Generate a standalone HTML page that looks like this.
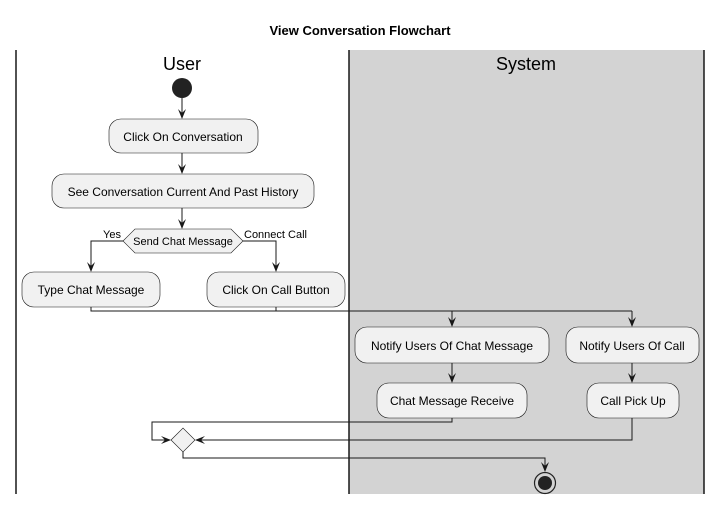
<!DOCTYPE html>
<html><head><style>body{margin:0;background:#fff}svg{display:block}text{font-family:"Liberation Sans",sans-serif;fill:#000}</style></head>
<body>
<svg width="721" height="505" viewBox="0 0 721 505" xmlns="http://www.w3.org/2000/svg">
<defs><marker id="a" viewBox="0 0 10 10" refX="9" refY="5" markerWidth="10" markerHeight="10" orient="auto" markerUnits="userSpaceOnUse"><path d="M0,1 L10,5 L0,9 L4,5 Z" fill="#181818"/></marker></defs>
<text x="360" y="35" font-size="13" font-weight="bold" text-anchor="middle">View Conversation Flowchart</text>
<rect x="349" y="50" width="355" height="444" fill="#d3d3d3"/>
<g stroke="#181818" stroke-width="1.5"><line x1="16" y1="50" x2="16" y2="494"/><line x1="349" y1="50" x2="349" y2="494"/><line x1="704" y1="50" x2="704" y2="494"/></g>
<text x="182" y="70" font-size="18" text-anchor="middle">User</text>
<text x="526" y="70" font-size="18" text-anchor="middle">System</text>
<circle cx="182" cy="88" r="10" fill="#222"/>
<g fill="#f1f1f1" stroke="#181818" stroke-width="0.6">
<rect x="109" y="119" width="149" height="34" rx="12"/>
<rect x="52" y="174" width="262" height="34" rx="12"/>
<polygon points="123,241 135,229 231,229 243,241 231,253 135,253"/>
<rect x="22" y="272" width="138" height="35" rx="12"/>
<rect x="207" y="272" width="138" height="35" rx="12"/>
<rect x="355" y="327" width="194" height="36" rx="12"/>
<rect x="566" y="327" width="133" height="36" rx="12"/>
<rect x="377" y="383" width="150" height="35" rx="12"/>
<rect x="587" y="383" width="92" height="35" rx="12"/>
<polygon points="171,440 183,428 195,440 183,452"/>
</g>
<g fill="none" stroke="#181818" stroke-width="1">
<line x1="182" y1="98" x2="182" y2="118" marker-end="url(#a)"/>
<line x1="182" y1="153" x2="182" y2="173" marker-end="url(#a)"/>
<line x1="182" y1="208" x2="182" y2="228" marker-end="url(#a)"/>
<polyline points="123,241 91,241 91,271" marker-end="url(#a)"/>
<polyline points="243,241 276,241 276,271" marker-end="url(#a)"/>
<polyline points="91,307 91,311 632,311"/>
<line x1="276" y1="307" x2="276" y2="311"/>
<line x1="452" y1="311" x2="452" y2="326" marker-end="url(#a)"/>
<line x1="632" y1="311" x2="632" y2="326" marker-end="url(#a)"/>
<line x1="452" y1="363" x2="452" y2="382" marker-end="url(#a)"/>
<line x1="632" y1="363" x2="632" y2="382" marker-end="url(#a)"/>
<polyline points="452,418 452,422 152,422 152,440 170,440" marker-end="url(#a)"/>
<polyline points="632,418 632,440 196,440" marker-end="url(#a)"/>
<polyline points="183,452 183,458 545,458 545,471" marker-end="url(#a)"/>
</g>
<circle cx="545" cy="483" r="10.5" fill="none" stroke="#222" stroke-width="1.2"/>
<circle cx="545" cy="483" r="7" fill="#222"/>
<g font-size="12" text-anchor="middle">
<text x="183" y="141">Click On Conversation</text>
<text x="183" y="196">See Conversation Current And Past History</text>
<text x="183" y="245" font-size="11">Send Chat Message</text>
<text x="91" y="294">Type Chat Message</text>
<text x="276" y="294">Click On Call Button</text>
<text x="452" y="350">Notify Users Of Chat Message</text>
<text x="632" y="350">Notify Users Of Call</text>
<text x="452" y="405">Chat Message Receive</text>
<text x="633" y="405">Call Pick Up</text>
</g>
<text x="103" y="238" font-size="11">Yes</text>
<text x="244" y="238" font-size="11">Connect Call</text>
</svg>
</body></html>
